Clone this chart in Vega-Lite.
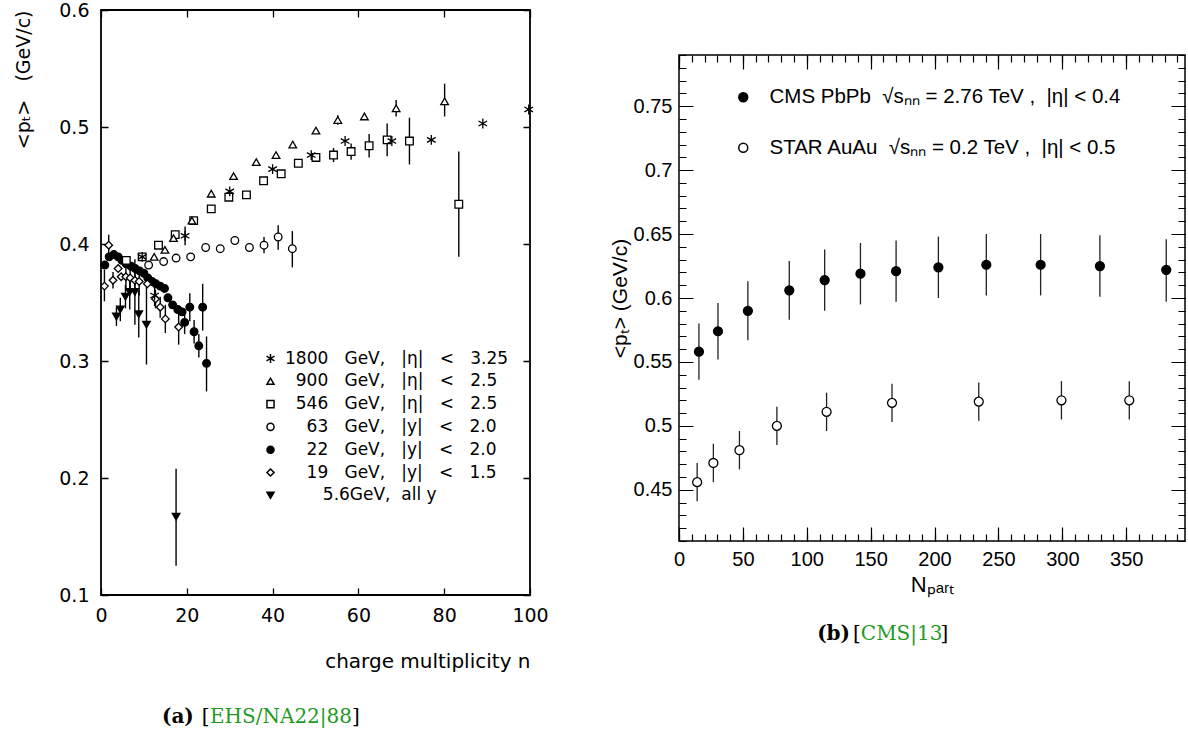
{
  "$schema": "https://vega.github.io/schema/vega-lite/v6.json",
  "padding": {"left": 13, "top": 0, "right": 0, "bottom": 0},
  "background": "white",
  "spacing": 58,
  "resolve": {"scale": {"fill": "independent", "shape": "independent"}, "legend": {"fill": "independent", "shape": "independent"}},
  "config": {
    "axis": {"labelColor": "black", "titleColor": "black", "titleFontWeight": "normal"},
    "legend": {"labelColor": "black"}
  },
  "datasets": {
    "left": [
      {"s": "22", "n": 0.9, "p": 0.382}, {"s": "22", "n": 1.9, "p": 0.389}, {"s": "22", "n": 3.0, "p": 0.391}, {"s": "22", "n": 4.0, "p": 0.389},
      {"s": "22", "n": 4.9, "p": 0.386}, {"s": "22", "n": 5.9, "p": 0.383}, {"s": "22", "n": 7.0, "p": 0.381}, {"s": "22", "n": 8.0, "p": 0.379},
      {"s": "22", "n": 9.0, "p": 0.377}, {"s": "22", "n": 10.0, "p": 0.375}, {"s": "22", "n": 10.9, "p": 0.371}, {"s": "22", "n": 11.9, "p": 0.368},
      {"s": "22", "n": 12.8, "p": 0.366}, {"s": "22", "n": 13.8, "p": 0.364}, {"s": "22", "n": 14.8, "p": 0.362}, {"s": "22", "n": 15.6, "p": 0.354},
      {"s": "22", "n": 16.7, "p": 0.348}, {"s": "22", "n": 17.9, "p": 0.344}, {"s": "22", "n": 18.9, "p": 0.342},
      {"s": "22", "n": 19.5, "p": 0.333, "lo": 0.323, "hi": 0.343}, {"s": "22", "n": 20.7, "p": 0.346, "lo": 0.334, "hi": 0.358},
      {"s": "22", "n": 21.7, "p": 0.325, "lo": 0.315, "hi": 0.335}, {"s": "22", "n": 22.8, "p": 0.313, "lo": 0.303, "hi": 0.323},
      {"s": "22", "n": 23.7, "p": 0.346, "lo": 0.326, "hi": 0.366}, {"s": "22", "n": 24.6, "p": 0.298, "lo": 0.274, "hi": 0.321},
      {"s": "5.6", "n": 3.6, "p": 0.338, "lo": 0.330, "hi": 0.346}, {"s": "5.6", "n": 4.5, "p": 0.344, "lo": 0.334, "hi": 0.354},
      {"s": "5.6", "n": 5.7, "p": 0.355, "lo": 0.345, "hi": 0.365}, {"s": "5.6", "n": 6.7, "p": 0.359, "lo": 0.344, "hi": 0.374},
      {"s": "5.6", "n": 7.9, "p": 0.359, "lo": 0.331, "hi": 0.387}, {"s": "5.6", "n": 8.8, "p": 0.340, "lo": 0.320, "hi": 0.360},
      {"s": "5.6", "n": 10.6, "p": 0.331, "lo": 0.297, "hi": 0.371}, {"s": "5.6", "n": 17.5, "p": 0.167, "lo": 0.125, "hi": 0.208},
      {"s": "19", "n": 0.8, "p": 0.364, "lo": 0.351, "hi": 0.378}, {"s": "19", "n": 1.8, "p": 0.399, "lo": 0.390, "hi": 0.408},
      {"s": "19", "n": 2.8, "p": 0.369, "lo": 0.362, "hi": 0.376}, {"s": "19", "n": 4.0, "p": 0.379}, {"s": "19", "n": 4.7, "p": 0.372},
      {"s": "19", "n": 5.8, "p": 0.372, "lo": 0.362, "hi": 0.382}, {"s": "19", "n": 6.8, "p": 0.371, "lo": 0.359, "hi": 0.383},
      {"s": "19", "n": 7.9, "p": 0.369, "lo": 0.356, "hi": 0.382}, {"s": "19", "n": 8.9, "p": 0.368, "lo": 0.356, "hi": 0.380},
      {"s": "19", "n": 10.8, "p": 0.366}, {"s": "19", "n": 12.7, "p": 0.353, "lo": 0.345, "hi": 0.361},
      {"s": "19", "n": 13.8, "p": 0.346, "lo": 0.337, "hi": 0.355}, {"s": "19", "n": 15.0, "p": 0.336, "lo": 0.324, "hi": 0.348},
      {"s": "19", "n": 18.1, "p": 0.329, "lo": 0.314, "hi": 0.344},
      {"s": "63", "n": 11.1, "p": 0.382}, {"s": "63", "n": 14.6, "p": 0.385}, {"s": "63", "n": 17.5, "p": 0.388}, {"s": "63", "n": 20.9, "p": 0.389},
      {"s": "63", "n": 24.4, "p": 0.397}, {"s": "63", "n": 27.8, "p": 0.396}, {"s": "63", "n": 31.2, "p": 0.403}, {"s": "63", "n": 34.6, "p": 0.397},
      {"s": "63", "n": 38.0, "p": 0.399, "lo": 0.392, "hi": 0.406}, {"s": "63", "n": 41.3, "p": 0.406, "lo": 0.395, "hi": 0.416},
      {"s": "63", "n": 44.6, "p": 0.396, "lo": 0.380, "hi": 0.411},
      {"s": "546", "n": 5.9, "p": 0.386}, {"s": "546", "n": 9.6, "p": 0.389}, {"s": "546", "n": 13.4, "p": 0.399}, {"s": "546", "n": 17.3, "p": 0.408},
      {"s": "546", "n": 21.6, "p": 0.420}, {"s": "546", "n": 25.7, "p": 0.430}, {"s": "546", "n": 29.8, "p": 0.440}, {"s": "546", "n": 33.9, "p": 0.442},
      {"s": "546", "n": 37.9, "p": 0.454}, {"s": "546", "n": 42.0, "p": 0.460}, {"s": "546", "n": 46.0, "p": 0.469}, {"s": "546", "n": 50.1, "p": 0.474},
      {"s": "546", "n": 54.2, "p": 0.476, "lo": 0.470, "hi": 0.482}, {"s": "546", "n": 58.3, "p": 0.479, "lo": 0.472, "hi": 0.486},
      {"s": "546", "n": 62.5, "p": 0.484, "lo": 0.474, "hi": 0.494}, {"s": "546", "n": 66.7, "p": 0.489, "lo": 0.475, "hi": 0.503},
      {"s": "546", "n": 71.9, "p": 0.488, "lo": 0.468, "hi": 0.508}, {"s": "546", "n": 83.4, "p": 0.434, "lo": 0.389, "hi": 0.479},
      {"s": "900", "n": 12.4, "p": 0.389}, {"s": "900", "n": 14.9, "p": 0.395}, {"s": "900", "n": 16.9, "p": 0.405}, {"s": "900", "n": 21.2, "p": 0.420},
      {"s": "900", "n": 25.7, "p": 0.443}, {"s": "900", "n": 30.9, "p": 0.458}, {"s": "900", "n": 36.2, "p": 0.470}, {"s": "900", "n": 40.8, "p": 0.476},
      {"s": "900", "n": 44.7, "p": 0.485}, {"s": "900", "n": 50.1, "p": 0.497}, {"s": "900", "n": 55.2, "p": 0.506, "lo": 0.502, "hi": 0.510},
      {"s": "900", "n": 61.4, "p": 0.509}, {"s": "900", "n": 68.8, "p": 0.516, "lo": 0.509, "hi": 0.523},
      {"s": "900", "n": 80.1, "p": 0.522, "lo": 0.509, "hi": 0.537},
      {"s": "1800", "n": 9.6, "p": 0.389}, {"s": "1800", "n": 12.5, "p": 0.356, "lo": 0.347, "hi": 0.365},
      {"s": "1800", "n": 19.6, "p": 0.407, "lo": 0.399, "hi": 0.415}, {"s": "1800", "n": 30.0, "p": 0.445}, {"s": "1800", "n": 40.0, "p": 0.464},
      {"s": "1800", "n": 49.0, "p": 0.476}, {"s": "1800", "n": 56.9, "p": 0.488}, {"s": "1800", "n": 67.8, "p": 0.488}, {"s": "1800", "n": 77.0, "p": 0.489},
      {"s": "1800", "n": 89.0, "p": 0.503}, {"s": "1800", "n": 99.7, "p": 0.515}
    ],
    "right": [
      {"s": "CMS", "x": 15.6, "p": 0.558, "lo": 0.536, "hi": 0.580}, {"s": "CMS", "x": 30.5, "p": 0.574, "lo": 0.552, "hi": 0.596},
      {"s": "CMS", "x": 53.9, "p": 0.590, "lo": 0.567, "hi": 0.613}, {"s": "CMS", "x": 86.3, "p": 0.606, "lo": 0.583, "hi": 0.629},
      {"s": "CMS", "x": 114.0, "p": 0.614, "lo": 0.590, "hi": 0.638}, {"s": "CMS", "x": 142.0, "p": 0.619, "lo": 0.595, "hi": 0.643},
      {"s": "CMS", "x": 169.9, "p": 0.621, "lo": 0.597, "hi": 0.645}, {"s": "CMS", "x": 203.0, "p": 0.624, "lo": 0.600, "hi": 0.648},
      {"s": "CMS", "x": 240.5, "p": 0.626, "lo": 0.602, "hi": 0.650}, {"s": "CMS", "x": 283.0, "p": 0.626, "lo": 0.602, "hi": 0.650},
      {"s": "CMS", "x": 329.4, "p": 0.625, "lo": 0.601, "hi": 0.649}, {"s": "CMS", "x": 381.3, "p": 0.622, "lo": 0.597, "hi": 0.646},
      {"s": "STAR", "x": 14.2, "p": 0.456, "lo": 0.441, "hi": 0.471}, {"s": "STAR", "x": 26.9, "p": 0.471, "lo": 0.456, "hi": 0.486},
      {"s": "STAR", "x": 47.3, "p": 0.481, "lo": 0.466, "hi": 0.496}, {"s": "STAR", "x": 76.6, "p": 0.500, "lo": 0.485, "hi": 0.515},
      {"s": "STAR", "x": 115.5, "p": 0.511, "lo": 0.496, "hi": 0.526}, {"s": "STAR", "x": 166.7, "p": 0.518, "lo": 0.503, "hi": 0.533},
      {"s": "STAR", "x": 234.6, "p": 0.519, "lo": 0.504, "hi": 0.534}, {"s": "STAR", "x": 299.3, "p": 0.520, "lo": 0.505, "hi": 0.535},
      {"s": "STAR", "x": 352.4, "p": 0.520, "lo": 0.505, "hi": 0.535}
    ]
  },
  "hconcat": [
    {
      "width": 429,
      "height": 585,
      "view": {"stroke": "black", "strokeWidth": 1.8},
      "layer": [
        {
          "data": {"name": "left"},
          "transform": [{"filter": "isValid(datum.lo)"}],
          "mark": {"type": "rule", "color": "black", "strokeWidth": 1.4},
          "encoding": {
            "x": {"field": "n", "type": "quantitative", "scale": {"domain": [0, 100], "nice": false, "zero": false},
              "axis": {"values": [0, 20, 40, 60, 80, 100], "title": "charge multiplicity n", "titleFont": "DejaVu Sans", "titleFontSize": 20,
                "titleAnchor": "end", "titlePadding": 26, "labelFont": "DejaVu Sans", "labelFontSize": 19, "labelPadding": 11,
                "ticks": false, "domain": false, "grid": true, "gridColor": "black", "gridOpacity": 1, "gridWidth": 1.3,
                "gridDash": [7, 571, 7], "labelFlush": false, "labelOverlap": false}},
            "y": {"field": "lo", "type": "quantitative", "scale": {"domain": [0.1, 0.6], "nice": false, "zero": false},
              "axis": {"values": [0.1, 0.2, 0.3, 0.4, 0.5, 0.6], "format": ".1f", "title": "<pₜ>\u00a0\u00a0\u00a0(GeV/c)",
                "titleFont": "DejaVu Sans", "titleFontSize": 19, "titleAnchor": "end", "titlePadding": 25,
                "labelFont": "DejaVu Sans", "labelFontSize": 19, "labelPadding": 12, "ticks": false, "domain": false,
                "grid": true, "gridColor": "black", "gridOpacity": 1, "gridWidth": 1.3, "gridDash": [7, 415, 7],
                "labelFlush": false, "labelOverlap": false}},
            "y2": {"field": "hi"}
          }
        },
        {
          "data": {"name": "left"},
          "mark": {"type": "point", "filled": true, "stroke": "black", "strokeWidth": 1.3, "size": 58, "opacity": 1},
          "encoding": {
            "x": {"field": "n", "type": "quantitative"},
            "y": {"field": "p", "type": "quantitative"},
            "shape": {"field": "s", "type": "nominal",
              "scale": {"domain": ["1800", "900", "546", "63", "22", "19", "5.6"],
                "range": ["M0,-1.3L0,1.3M-1.13,-0.65L1.13,0.65M-1.13,0.65L1.13,-0.65", "triangle-up", "square", "circle", "circle", "diamond", "triangle-down"]},
              "legend": {"orient": "none", "legendX": 161, "legendY": 340, "title": null, "padding": 0,
                "labelFont": "DejaVu Sans", "labelFontSize": 17, "labelLimit": 400, "symbolSize": 50,
                "rowPadding": 4.8, "labelOffset": 6,
                "encode": {"symbols": {"update": {"stroke": {"value": "black"}, "strokeWidth": {"value": 1.3}}}},
                "labelExpr": "{'1800': '1800\u00a0\u00a0\u00a0GeV,\u00a0\u00a0\u00a0|η|\u00a0\u00a0\u00a0<\u00a0\u00a0\u00a03.25', '900': '\u200b\u00a0\u00a0900\u00a0\u00a0\u00a0GeV,\u00a0\u00a0\u00a0|η|\u00a0\u00a0\u00a0<\u00a0\u00a0\u00a02.5', '546': '\u200b\u00a0\u00a0546\u00a0\u00a0\u00a0GeV,\u00a0\u00a0\u00a0|η|\u00a0\u00a0\u00a0<\u00a0\u00a0\u00a02.5', '63': '\u200b\u00a0\u00a0\u00a0\u00a063\u00a0\u00a0\u00a0GeV,\u00a0\u00a0\u00a0|y|\u00a0\u00a0\u00a0<\u00a0\u00a0\u00a02.0', '22': '\u200b\u00a0\u00a0\u00a0\u00a022\u00a0\u00a0\u00a0GeV,\u00a0\u00a0\u00a0|y|\u00a0\u00a0\u00a0<\u00a0\u00a0\u00a02.0', '19': '\u200b\u00a0\u00a0\u00a0\u00a019\u00a0\u00a0\u00a0GeV,\u00a0\u00a0\u00a0|y|\u00a0\u00a0\u00a0<\u00a0\u00a0\u00a01.5', '5.6': '\u200b\u00a0\u00a0\u00a0\u00a0\u00a0\u00a0\u00a05.6GeV,\u00a0\u00a0all\u00a0y'}[datum.label]"}},
            "fill": {"field": "s", "type": "nominal",
              "scale": {"domain": ["1800", "900", "546", "63", "22", "19", "5.6"],
                "range": ["white", "white", "white", "white", "black", "white", "black"]},
              "legend": {"orient": "none", "legendX": 161, "legendY": 340, "title": null, "padding": 0,
                "labelFont": "DejaVu Sans", "labelFontSize": 17, "labelLimit": 400, "symbolSize": 50,
                "rowPadding": 4.8, "labelOffset": 6,
                "encode": {"symbols": {"update": {"stroke": {"value": "black"}, "strokeWidth": {"value": 1.3}}}},
                "labelExpr": "{'1800': '1800\u00a0\u00a0\u00a0GeV,\u00a0\u00a0\u00a0|η|\u00a0\u00a0\u00a0<\u00a0\u00a0\u00a03.25', '900': '\u200b\u00a0\u00a0900\u00a0\u00a0\u00a0GeV,\u00a0\u00a0\u00a0|η|\u00a0\u00a0\u00a0<\u00a0\u00a0\u00a02.5', '546': '\u200b\u00a0\u00a0546\u00a0\u00a0\u00a0GeV,\u00a0\u00a0\u00a0|η|\u00a0\u00a0\u00a0<\u00a0\u00a0\u00a02.5', '63': '\u200b\u00a0\u00a0\u00a0\u00a063\u00a0\u00a0\u00a0GeV,\u00a0\u00a0\u00a0|y|\u00a0\u00a0\u00a0<\u00a0\u00a0\u00a02.0', '22': '\u200b\u00a0\u00a0\u00a0\u00a022\u00a0\u00a0\u00a0GeV,\u00a0\u00a0\u00a0|y|\u00a0\u00a0\u00a0<\u00a0\u00a0\u00a02.0', '19': '\u200b\u00a0\u00a0\u00a0\u00a019\u00a0\u00a0\u00a0GeV,\u00a0\u00a0\u00a0|y|\u00a0\u00a0\u00a0<\u00a0\u00a0\u00a01.5', '5.6': '\u200b\u00a0\u00a0\u00a0\u00a0\u00a0\u00a0\u00a05.6GeV,\u00a0\u00a0all\u00a0y'}[datum.label]"}}
          }
        },
        {
          "data": {"values": [{}]},
          "mark": {"type": "text", "text": "(a)", "font": "DejaVu Serif", "fontSize": 20, "fontWeight": "bold", "align": "left", "baseline": "middle", "color": "black"},
          "encoding": {"x": {"datum": 14.2, "type": "quantitative"}, "y": {"datum": -0.0043, "type": "quantitative"}}
        },
        {
          "data": {"values": [{}]},
          "mark": {"type": "text", "text": "[", "font": "DejaVu Serif", "fontSize": 20, "align": "left", "baseline": "middle", "color": "black"},
          "encoding": {"x": {"datum": 23.5, "type": "quantitative"}, "y": {"datum": -0.0043, "type": "quantitative"}}
        },
        {
          "data": {"values": [{}]},
          "mark": {"type": "text", "text": "EHS/NA22|88", "font": "DejaVu Serif", "fontSize": 20, "align": "left", "baseline": "middle", "color": "#1f9a1f"},
          "encoding": {"x": {"datum": 25.4, "type": "quantitative"}, "y": {"datum": -0.0043, "type": "quantitative"}}
        },
        {
          "data": {"values": [{}]},
          "mark": {"type": "text", "text": "]", "font": "DejaVu Serif", "fontSize": 20, "align": "left", "baseline": "middle", "color": "black"},
          "encoding": {"x": {"datum": 58.5, "type": "quantitative"}, "y": {"datum": -0.0043, "type": "quantitative"}}
        }
      ]
    },
    {
      "spacing": 0,
      "vconcat": [
        {
          "width": 506,
          "height": 44,
          "view": {"stroke": null},
          "data": {"values": [{}]},
          "mark": {"type": "text", "text": " "},
          "encoding": {}
        },
        {
          "width": 506,
          "height": 486,
          "view": {"stroke": "black", "strokeWidth": 1.5},
          "resolve": {"axis": {"x": "independent", "y": "independent"}},
          "layer": [
            {
              "layer": [
                {
                  "data": {"name": "right"},
                  "mark": {"type": "rule", "color": "#222222", "strokeWidth": 1.3},
                  "encoding": {
                    "x": {"field": "x", "type": "quantitative", "scale": {"domain": [0, 396], "nice": false, "zero": false},
                      "axis": {"orient": "bottom", "values": [0, 50, 100, 150, 200, 250, 300, 350],
                        "title": "Nₚₐᵣₜ", "titleFont": "Liberation Sans", "titleFontSize": 22, "titlePadding": 5,
                        "labelFont": "Liberation Sans", "labelFontSize": 20, "labelPadding": 8, "ticks": false, "domain": false,
                        "grid": true, "gridColor": "black", "gridOpacity": 1, "gridWidth": 1.2, "gridDash": [14, 458, 14],
                        "labelFlush": false, "labelOverlap": false}},
                    "y": {"field": "lo", "type": "quantitative", "scale": {"domain": [0.41, 0.79], "nice": false, "zero": false},
                      "axis": {"orient": "left", "values": [0.45, 0.5, 0.55, 0.6, 0.65, 0.7, 0.75], "format": ".2~f", "title": "<pₜ> (GeV/c)",
                        "titleFont": "Liberation Sans", "titleFontSize": 21, "titlePadding": 3,
                        "labelFont": "Liberation Sans", "labelFontSize": 20, "labelPadding": 7, "ticks": false, "domain": false,
                        "grid": true, "gridColor": "black", "gridOpacity": 1, "gridWidth": 1.2, "gridDash": [14, 478, 14],
                        "labelFlush": false, "labelOverlap": false}},
                    "y2": {"field": "hi"}
                  }
                },
                {
                  "data": {"name": "right"},
                  "mark": {"type": "point", "filled": true, "stroke": "black", "strokeWidth": 1.3, "size": 80, "opacity": 1, "shape": "circle"},
                  "encoding": {
                    "x": {"field": "x", "type": "quantitative"},
                    "y": {"field": "p", "type": "quantitative"},
                    "fill": {"field": "s", "type": "nominal", "scale": {"domain": ["CMS", "STAR"], "range": ["black", "white"]},
                      "legend": {"orient": "none", "legendX": 54, "legendY": 77, "title": null, "padding": 0, "symbolType": "circle",
                        "labelFont": "Liberation Sans", "labelFontSize": 20.5, "labelLimit": 600, "symbolSize": 80,
                        "rowPadding": 29.5, "labelOffset": 16,
                        "encode": {"symbols": {"update": {"stroke": {"value": "black"}, "strokeWidth": {"value": 1.2}}}},
                        "labelExpr": "datum.label === 'CMS' ? 'CMS PbPb\u00a0\u00a0√sₙₙ = 2.76 TeV ,\u00a0\u00a0|η| < 0.4' : 'STAR AuAu\u00a0\u00a0√sₙₙ = 0.2 TeV ,\u00a0\u00a0|η| < 0.5'"}}
                  }
                },
                {
                  "data": {"values": [{}]},
                  "mark": {"type": "text", "text": "(b)", "font": "DejaVu Serif", "fontSize": 20, "fontWeight": "bold", "align": "left", "baseline": "middle", "color": "black"},
                  "encoding": {"x": {"datum": 108.1, "type": "quantitative"}, "y": {"datum": 0.3375, "type": "quantitative"}}
                },
                {
                  "data": {"values": [{}]},
                  "mark": {"type": "text", "text": "[", "font": "DejaVu Serif", "fontSize": 20, "align": "left", "baseline": "middle", "color": "black"},
                  "encoding": {"x": {"datum": 136.2, "type": "quantitative"}, "y": {"datum": 0.3375, "type": "quantitative"}}
                },
                {
                  "data": {"values": [{}]},
                  "mark": {"type": "text", "text": "CMS|13", "font": "DejaVu Serif", "fontSize": 20, "align": "left", "baseline": "middle", "color": "#1f9a1f"},
                  "encoding": {"x": {"datum": 142.3, "type": "quantitative"}, "y": {"datum": 0.3375, "type": "quantitative"}}
                },
                {
                  "data": {"values": [{}]},
                  "mark": {"type": "text", "text": "]", "font": "DejaVu Serif", "fontSize": 20, "align": "left", "baseline": "middle", "color": "black"},
                  "encoding": {"x": {"datum": 204.7, "type": "quantitative"}, "y": {"datum": 0.3375, "type": "quantitative"}}
                }
              ]
            },
            {
              "data": {"name": "right"},
              "mark": {"type": "point", "opacity": 0},
              "encoding": {
                "x": {"field": "x", "type": "quantitative",
                  "axis": {"orient": "top", "values": [0, 10, 20, 30, 40, 50, 60, 70, 80, 90, 100, 110, 120, 130, 140, 150, 160, 170, 180, 190, 200, 210, 220, 230, 240, 250, 260, 270, 280, 290, 300, 310, 320, 330, 340, 350, 360, 370, 380, 390],
                    "labels": false, "title": null, "ticks": false, "domain": false,
                    "grid": true, "gridColor": "black", "gridOpacity": 1, "gridWidth": 1.2, "gridDash": [7, 472, 7]}},
                "y": {"field": "p", "type": "quantitative",
                  "axis": {"orient": "right", "values": [0.41, 0.42, 0.43, 0.44, 0.45, 0.46, 0.47, 0.48, 0.49, 0.5, 0.51, 0.52, 0.53, 0.54, 0.55, 0.56, 0.57, 0.58, 0.59, 0.6, 0.61, 0.62, 0.63, 0.64, 0.65, 0.66, 0.67, 0.68, 0.69, 0.7, 0.71, 0.72, 0.73, 0.74, 0.75, 0.76, 0.77, 0.78, 0.79],
                    "labels": false, "title": null, "ticks": false, "domain": false,
                    "grid": true, "gridColor": "black", "gridOpacity": 1, "gridWidth": 1.2, "gridDash": [7, 492, 7]}}
              }
            }
          ]
        }
      ]
    }
  ]
}
